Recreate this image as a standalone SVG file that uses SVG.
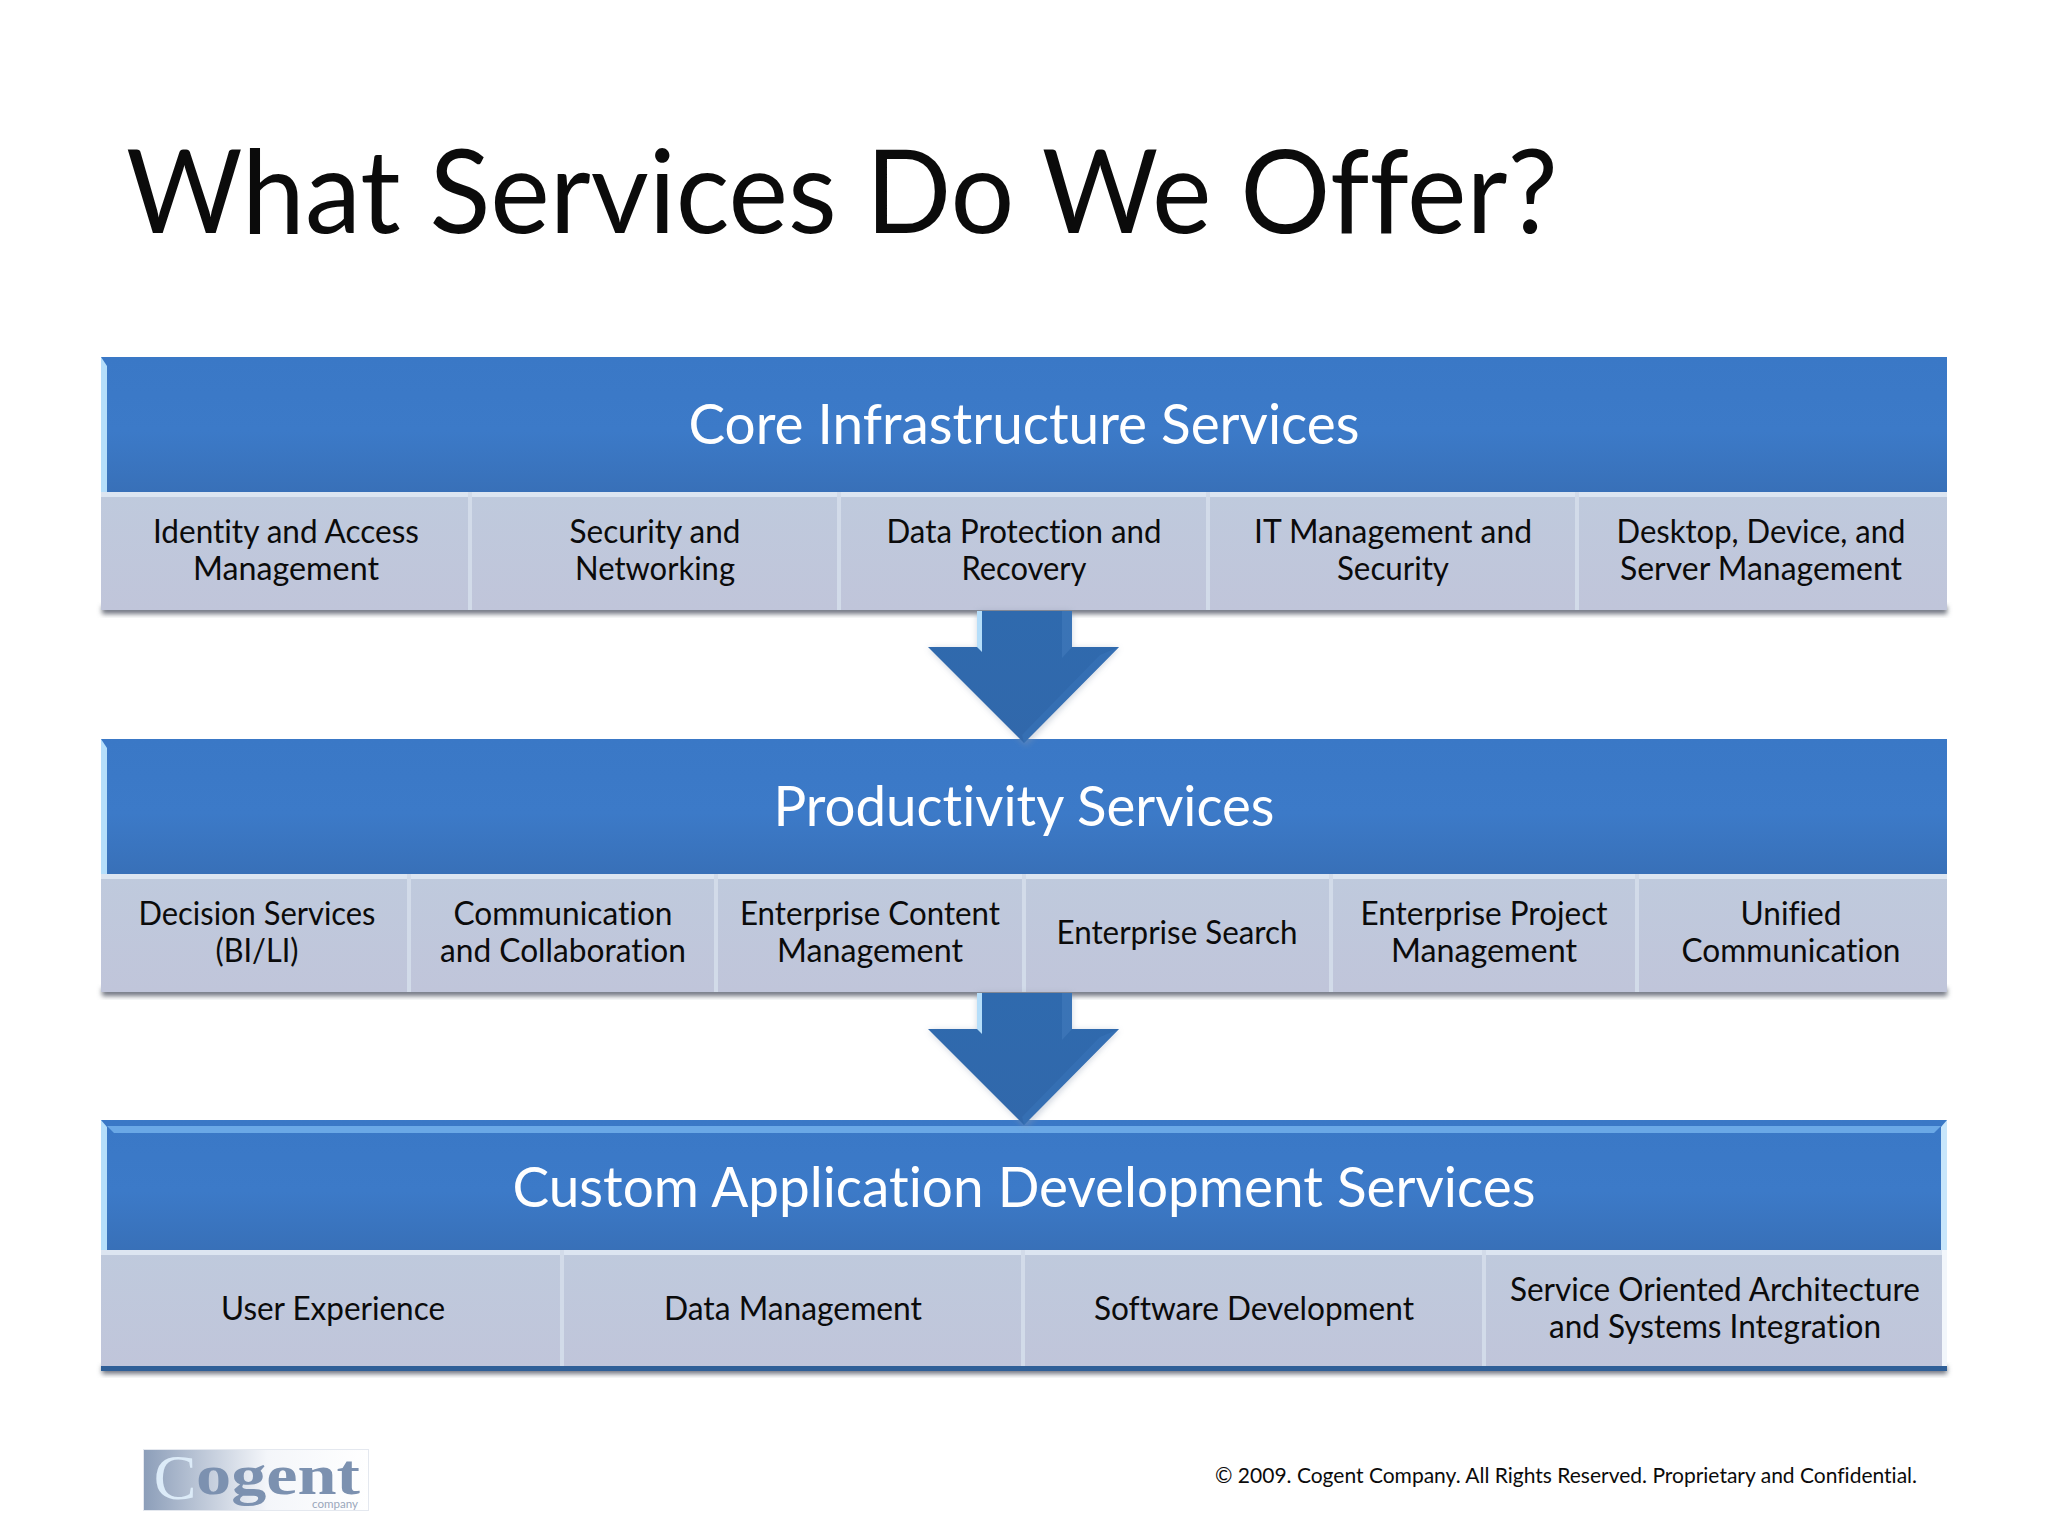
<svg xmlns="http://www.w3.org/2000/svg" width="2048" height="1536" viewBox="0 0 2048 1536">
<style>
text{font-family:"Lato","Carlito","Liberation Sans",sans-serif;text-anchor:middle;fill:#0b0b0b;font-variant-ligatures:none}
.t{font-size:33px}
.h{font-size:57px;fill:#fff}
.hd{fill:url(#hg)}
.cell{fill:url(#cg)}
.hl{fill:#b5defa}
.cl{fill:#d2dbe9}
.top{fill:#dce5f1}
.sh{fill:#6f7480;filter:url(#b)}
</style>
<defs>
<linearGradient id="hg" x1="0" y1="0" x2="0" y2="1"><stop offset="0" stop-color="#3a78c6"/><stop offset=".55" stop-color="#3c7ac8"/><stop offset="1" stop-color="#3870b8"/></linearGradient>
<linearGradient id="cg" x1="0" y1="0" x2="0" y2="1"><stop offset="0" stop-color="#bfcadd"/><stop offset="1" stop-color="#c0c5da"/></linearGradient>
<linearGradient id="ag" x1="0" y1="0" x2="0" y2="1"><stop offset="0" stop-color="#2f6aae"/><stop offset="1" stop-color="#3168ab"/></linearGradient>
<linearGradient id="lg" x1="0" y1="0" x2="1" y2="0"><stop offset="0" stop-color="#8c9eb9"/><stop offset=".55" stop-color="#f4f6fa"/><stop offset="1" stop-color="#fff"/></linearGradient>
<filter id="b" x="-5%" y="-50%" width="110%" height="200%"><feGaussianBlur stdDeviation="2.5"/></filter>
<filter id="b2" x="-10%" y="-10%" width="120%" height="120%"><feGaussianBlur stdDeviation="3"/></filter>
<g id="arrow">
<path d="M928 648H977V611H1072V648H1119L1026 746Z" fill="#8b9ab0" opacity=".4" filter="url(#b2)"/>
<path d="M928 647H977V611H1072V647H1119L1024 743Z" fill="url(#ag)"/>
<path d="M977 611H982V652L977 647Z" fill="#b5defa"/>
<path d="M1062 611H1072V647L1062 658Z" fill="#4a80c0" opacity=".45"/>
<path d="M1119 647L1024 743L1022 735L1100 655Z" fill="#3c78bc" opacity=".45"/>
</g>
</defs>
<rect width="2048" height="1536" fill="#fff"/>
<text id="title" x="842" y="233" style="font-size:116px" textLength="1432" lengthAdjust="spacingAndGlyphs">What Services Do We Offer?</text>

<g id="band-core">
<rect class="sh" x="102" y="606" width="1845" height="8"/>
<rect class="hd" x="101" y="357" width="1846" height="135"/>
<path class="hl" d="M101 357L107 366V492H101Z"/>
<text class="h" x="1024" y="444" textLength="671" lengthAdjust="spacingAndGlyphs">Core Infrastructure Services</text>
<g id="core-1"><rect class="cell" x="101" y="492" width="369" height="118"/><rect class="top" x="101" y="492" width="369" height="5"/><text class="t" x="286" y="543" textLength="266" lengthAdjust="spacingAndGlyphs">Identity and Access</text><text class="t" x="286" y="580" textLength="186" lengthAdjust="spacingAndGlyphs">Management</text></g>
<g id="core-2"><rect class="cell" x="470" y="492" width="369" height="118"/><rect class="top" x="470" y="492" width="369" height="5"/><rect class="cl" x="468" y="492" width="4" height="118"/><text class="t" x="655" y="543" textLength="171" lengthAdjust="spacingAndGlyphs">Security and</text><text class="t" x="655" y="580" textLength="160" lengthAdjust="spacingAndGlyphs">Networking</text></g>
<g id="core-3"><rect class="cell" x="839" y="492" width="369" height="118"/><rect class="top" x="839" y="492" width="369" height="5"/><rect class="cl" x="837" y="492" width="4" height="118"/><text class="t" x="1024" y="543" textLength="275" lengthAdjust="spacingAndGlyphs">Data Protection and</text><text class="t" x="1024" y="580" textLength="125" lengthAdjust="spacingAndGlyphs">Recovery</text></g>
<g id="core-4"><rect class="cell" x="1208" y="492" width="369" height="118"/><rect class="top" x="1208" y="492" width="369" height="5"/><rect class="cl" x="1206" y="492" width="4" height="118"/><text class="t" x="1393" y="543" textLength="278" lengthAdjust="spacingAndGlyphs">IT Management and</text><text class="t" x="1393" y="580" textLength="112" lengthAdjust="spacingAndGlyphs">Security</text></g>
<g id="core-5"><rect class="cell" x="1577" y="492" width="370" height="118"/><rect class="top" x="1577" y="492" width="370" height="5"/><rect class="cl" x="1575" y="492" width="4" height="118"/><text class="t" x="1761" y="543" textLength="289" lengthAdjust="spacingAndGlyphs">Desktop, Device, and</text><text class="t" x="1761" y="580" textLength="282" lengthAdjust="spacingAndGlyphs">Server Management</text></g>
</g>

<g id="band-productivity">
<rect class="sh" x="102" y="988" width="1845" height="8"/>
<rect class="hd" x="101" y="739" width="1846" height="135"/>
<path class="hl" d="M101 739L107 748V874H101Z"/>
<text class="h" x="1024" y="826" textLength="501" lengthAdjust="spacingAndGlyphs">Productivity Services</text>
<g id="prod-1"><rect class="cell" x="101" y="874" width="308" height="118"/><rect class="top" x="101" y="874" width="308" height="5"/><text class="t" x="257" y="925" textLength="237" lengthAdjust="spacingAndGlyphs">Decision Services</text><text class="t" x="257" y="962" textLength="83" lengthAdjust="spacingAndGlyphs">(BI/LI)</text></g>
<g id="prod-2"><rect class="cell" x="409" y="874" width="307" height="118"/><rect class="top" x="409" y="874" width="307" height="5"/><rect class="cl" x="407" y="874" width="4" height="118"/><text class="t" x="563" y="925" textLength="219" lengthAdjust="spacingAndGlyphs">Communication</text><text class="t" x="563" y="962" textLength="246" lengthAdjust="spacingAndGlyphs">and Collaboration</text></g>
<g id="prod-3"><rect class="cell" x="716" y="874" width="308" height="118"/><rect class="top" x="716" y="874" width="308" height="5"/><rect class="cl" x="714" y="874" width="4" height="118"/><text class="t" x="870" y="925" textLength="260" lengthAdjust="spacingAndGlyphs">Enterprise Content</text><text class="t" x="870" y="962" textLength="186" lengthAdjust="spacingAndGlyphs">Management</text></g>
<g id="prod-4"><rect class="cell" x="1024" y="874" width="307" height="118"/><rect class="top" x="1024" y="874" width="307" height="5"/><rect class="cl" x="1022" y="874" width="4" height="118"/><text class="t" x="1177" y="944" textLength="241" lengthAdjust="spacingAndGlyphs">Enterprise Search</text></g>
<g id="prod-5"><rect class="cell" x="1331" y="874" width="308" height="118"/><rect class="top" x="1331" y="874" width="308" height="5"/><rect class="cl" x="1329" y="874" width="4" height="118"/><text class="t" x="1484" y="925" textLength="247" lengthAdjust="spacingAndGlyphs">Enterprise Project</text><text class="t" x="1484" y="962" textLength="186" lengthAdjust="spacingAndGlyphs">Management</text></g>
<g id="prod-6"><rect class="cell" x="1637" y="874" width="310" height="118"/><rect class="top" x="1637" y="874" width="310" height="5"/><rect class="cl" x="1635" y="874" width="4" height="118"/><text class="t" x="1791" y="925" textLength="101" lengthAdjust="spacingAndGlyphs">Unified</text><text class="t" x="1791" y="962" textLength="219" lengthAdjust="spacingAndGlyphs">Communication</text></g>
</g>

<g id="band-custom">
<rect class="sh" x="102" y="1366" width="1845" height="8"/>
<rect class="hd" x="101" y="1120" width="1846" height="130"/>
<path fill="#6aa8e6" d="M107 1126H1941L1934 1133H114Z"/>
<path class="hl" d="M101 1120L107 1127V1250H101Z"/>
<path fill="#c8e6fb" d="M1947 1120L1941 1127V1250H1947Z"/>
<text class="h" x="1024" y="1207" textLength="1023" lengthAdjust="spacingAndGlyphs">Custom Application Development Services</text>
<g id="custom-1"><rect class="cell" x="101" y="1250" width="462" height="118"/><rect class="top" x="101" y="1250" width="462" height="5"/><text class="t" x="333" y="1320" textLength="224" lengthAdjust="spacingAndGlyphs">User Experience</text></g>
<g id="custom-2"><rect class="cell" x="561" y="1250" width="463" height="118"/><rect class="top" x="561" y="1250" width="463" height="5"/><rect class="cl" x="560" y="1250" width="4" height="118"/><text class="t" x="793" y="1320" textLength="258" lengthAdjust="spacingAndGlyphs">Data Management</text></g>
<g id="custom-3"><rect class="cell" x="1024" y="1250" width="461" height="118"/><rect class="top" x="1024" y="1250" width="461" height="5"/><rect class="cl" x="1021" y="1250" width="4" height="118"/><text class="t" x="1254" y="1320" textLength="320" lengthAdjust="spacingAndGlyphs">Software Development</text></g>
<g id="custom-4"><rect class="cell" x="1483" y="1250" width="464" height="118"/><rect class="top" x="1483" y="1250" width="464" height="5"/><rect class="cl" x="1482" y="1250" width="4" height="118"/><rect x="1942" y="1250" width="5" height="118" fill="#f2f6fb"/><text class="t" x="1715" y="1301" textLength="410" lengthAdjust="spacingAndGlyphs">Service Oriented Architecture</text><text class="t" x="1715" y="1338" textLength="332" lengthAdjust="spacingAndGlyphs">and Systems Integration</text></g>
<rect x="101" y="1366" width="1846" height="5" fill="#2f5f97"/>
</g>

<g id="connectors">
<use href="#arrow"/>
<use href="#arrow" y="382"/>
</g>

<g id="logo">
<rect x="143.500" y="1449.500" width="225" height="61" fill="url(#lg)" stroke="#e4e8ef"/>
<text x="175" y="1499" style="font-family:'Liberation Serif',serif;font-size:64px;fill:#dcebf8">C</text>
<text x="278" y="1494" style="font-family:'Liberation Serif',serif;font-weight:700;font-size:57px;fill:#7c91b0" textLength="164" lengthAdjust="spacingAndGlyphs">ogent</text>
<text x="335" y="1508" style="font-size:11px;fill:#9aa7bb" textLength="46" lengthAdjust="spacingAndGlyphs">company</text>
</g>
<text id="footer" x="1566" y="1483" style="font-size:22px" textLength="702" lengthAdjust="spacingAndGlyphs">© 2009. Cogent Company. All Rights Reserved. Proprietary and Confidential.</text>
</svg>
